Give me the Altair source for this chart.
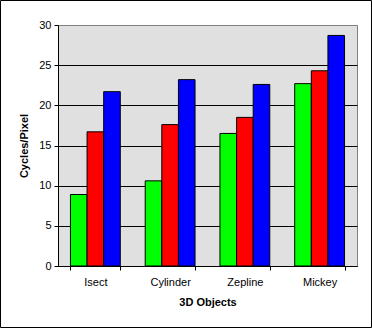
import altair as alt
import pandas as pd

categories = ["Isect", "Cylinder", "Zepline", "Mickey"]
series_names = ["Series 1", "Series 2", "Series 3"]
series1 = [8.9, 10.6, 16.5, 22.7]
series2 = [16.7, 17.6, 18.5, 24.3]
series3 = [21.7, 23.2, 22.6, 28.7]
colors = ["#00ff00", "#ff0000", "#0000ff"]
y_ticks = [0, 5, 10, 15, 20, 25, 30]

rows = []
for name, vals in zip(series_names, [series1, series2, series3]):
    for c, v in zip(categories, vals):
        rows.append({"object": c, "series": name, "value": v})
df = pd.DataFrame(rows)

FONT = "Liberation Sans"

bars = alt.Chart(df).mark_bar(stroke="black", strokeWidth=1).encode(
    x=alt.X("object:N", sort=categories,
            scale=alt.Scale(paddingInner=1/3, paddingOuter=1/6),
            axis=alt.Axis(title="3D Objects", labelAngle=0, tickBand="extent",
                          domainColor="black", tickColor="black", tickSize=4,
                          labelPadding=6, labelFontSize=11, labelFont=FONT, labelColor="black",
                          titleFont=FONT, titleFontSize=11, titleFontWeight="bold",
                          titleColor="black", titleX=149.5, titleY=36,
                          titleBaseline="middle", titleAlign="center")),
    xOffset=alt.XOffset("series:N", sort=series_names,
                        scale=alt.Scale(paddingInner=0, paddingOuter=0)),
    y=alt.Y("value:Q", scale=alt.Scale(domain=[0, 30], nice=False),
            axis=alt.Axis(title="Cycles/Pixel", values=y_ticks,
                          grid=True,
                          gridColor=alt.condition("datum.value == 30", alt.value("#808080"), alt.value("black")),
                          gridOpacity=1, gridWidth=1,
                          domainColor="black", tickColor="black", tickSize=4,
                          labelPadding=3, labelFontSize=11, labelFont=FONT, labelColor="black",
                          titleFont=FONT, titleFontSize=11, titleFontWeight="bold",
                          titleColor="black", titleX=-34, titleY=120.5, titleAngle=270,
                          titleBaseline="middle", titleAlign="center")),
    color=alt.Color("series:N", sort=series_names,
                    scale=alt.Scale(domain=series_names, range=colors), legend=None),
)

frame = alt.Chart(pd.DataFrame({"a": [0]})).mark_rect(
    fill=None, stroke="black", strokeWidth=1, clip=False
).encode(
    x=alt.value(-57.5), x2=alt.value(313.5),
    y=alt.value(-24.5), y2=alt.value(302.5),
)

chart = alt.layer(bars, frame).properties(
    width=299, height=241,
    autosize=alt.AutoSizeParams(type="none"),
    padding={"left": 58, "top": 25, "right": 15, "bottom": 62},
    background="white",
).configure_view(
    fill="#e0e0e0", stroke="#808080", strokeWidth=1
)

chart.save("out.html", embed_options={"renderer": "svg", "actions": False})
